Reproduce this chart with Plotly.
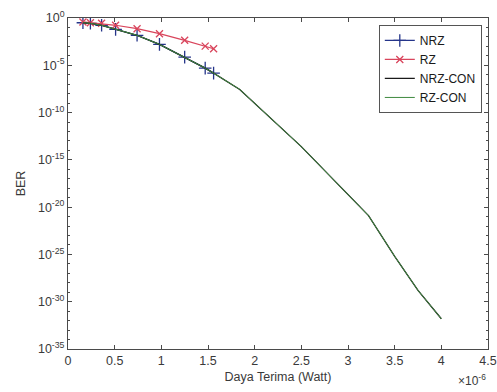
import plotly.graph_objects as go

# Data (x in units of 1e-6 W)
nrz_x = [0.16, 0.24, 0.36, 0.51, 0.74, 0.98, 1.25, 1.47, 1.56]
nrz_log_ber = [-0.50, -0.56, -0.77, -1.20, -1.83, -2.79, -4.14, -5.30, -5.83]
rz_x = [0.16, 0.24, 0.36, 0.51, 0.74, 0.98, 1.25, 1.47, 1.56]
rz_log_ber = [-0.42, -0.50, -0.56, -0.77, -1.13, -1.66, -2.36, -2.97, -3.25]
con_x = [0.16, 0.24, 0.36, 0.51, 0.74, 0.98, 1.25, 1.47, 1.56, 1.84, 2.5, 3.22, 3.5, 3.75, 4.0]
nrz_con_log_ber = [-0.50, -0.56, -0.77, -1.20, -1.83, -2.79, -4.14, -5.30, -5.83, -7.55, -13.6, -20.9, -25.2, -28.8, -31.8]
rz_con_log_ber = [-0.50, -0.56, -0.77, -1.20, -1.83, -2.79, -4.14, -5.30, -5.83, -7.55, -13.6, -20.9, -25.2, -28.8, -31.8]

x_ticks = [0, 0.5, 1, 1.5, 2, 2.5, 3, 3.5, 4, 4.5]
y_tick_exps = [0, -5, -10, -15, -20, -25, -30, -35]

def pw(v):
    return [10 ** e for e in v]

FONT = "Liberation Sans, Arial, sans-serif"
AX = "#4a4a4a"
TXT = "#3a3a3a"

fig = go.Figure()
fig.add_trace(go.Scatter(x=nrz_x, y=pw(nrz_log_ber), name="NRZ", mode="lines+markers",
                         line=dict(color="#25358a", width=1.2),
                         marker=dict(symbol="cross-thin", size=9, line=dict(color="#25358a", width=1.3))))
fig.add_trace(go.Scatter(x=rz_x, y=pw(rz_log_ber), name="RZ", mode="lines+markers",
                         line=dict(color="#d9455c", width=1.2),
                         marker=dict(symbol="x-thin", size=7, line=dict(color="#d9455c", width=1.3))))
fig.add_trace(go.Scatter(x=con_x, y=pw(nrz_con_log_ber), name="NRZ-CON", mode="lines",
                         line=dict(color="#1a1a1a", width=1.3)))
fig.add_trace(go.Scatter(x=con_x, y=pw(rz_con_log_ber), name="RZ-CON", mode="lines",
                         line=dict(color="#3f8a3f", width=1.0)))

fig.update_layout(
    width=497, height=392,
    margin=dict(l=68, r=9, t=18, b=43, autoexpand=False),
    paper_bgcolor="white", plot_bgcolor="white",
    font=dict(family=FONT, size=11, color=TXT),
    showlegend=True,
    legend=dict(x=0.74, y=0.979, xanchor="left", yanchor="top",
                bgcolor="white", bordercolor="#555555", borderwidth=1,
                font=dict(size=12, color="#1a1a1a"), tracegroupgap=0,
                itemwidth=30),
)
fig.update_xaxes(range=[0, 4.5], tickvals=x_ticks, ticktext=[("%g" % v) for v in x_ticks],
                 ticks="inside", ticklen=4, tickcolor=AX, showline=True, linecolor=AX, linewidth=1,
                 mirror="ticks", showgrid=False, zeroline=False, automargin=False,
                 title=dict(text="Daya Terima (Watt)", font=dict(size=12.5, color=TXT), standoff=5),
                 tickfont=dict(size=12.5))
fig.update_yaxes(type="log", range=[-35, 0], tickvals=[10 ** e for e in y_tick_exps],
                 ticktext=["10<sup>%d</sup>" % e for e in y_tick_exps],
                 ticks="inside", ticklen=4, tickcolor=AX, showline=True, linecolor=AX, linewidth=1,
                 mirror="ticks", showgrid=False, zeroline=False, automargin=False,
                 minor=dict(tickvals=[10 ** (-k) for k in range(36)], ticks="inside", ticklen=2, tickcolor=AX),
                 title=dict(text="BER", font=dict(size=12.5, color=TXT), standoff=9),
                 tickfont=dict(size=12.5))
fig.add_annotation(x=1.0, y=-0.095, xref="paper", yref="paper", xanchor="right", yanchor="middle",
                   text="\u00d710<sup>-6</sup>", showarrow=False, font=dict(size=12, color=TXT))
fig.write_html("out.html", config={"displayModeBar": False},
               post_script="document.body.style.margin='0';document.body.style.overflow='hidden';")
